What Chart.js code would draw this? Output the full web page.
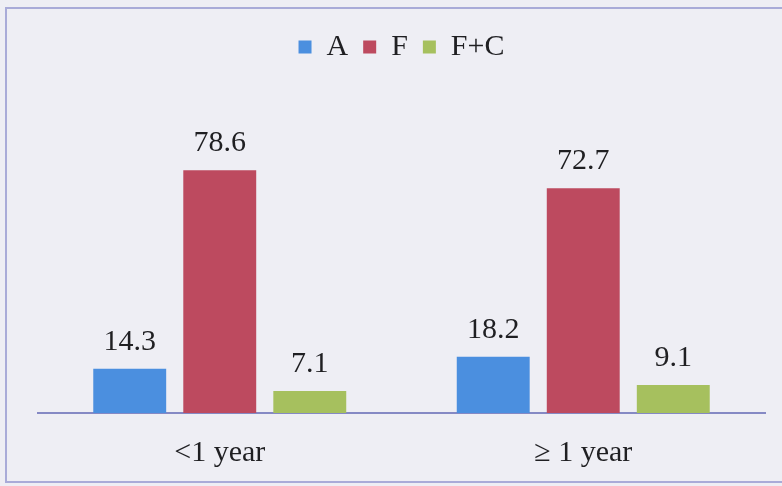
<!DOCTYPE html>
<html>
<head>
<meta charset="utf-8">
<script src="https://cdn.jsdelivr.net/npm/chart.js@4/dist/chart.umd.min.js"></script>
<style>
  html, body { margin: 0; padding: 0; background: #eeeef4; }
  #wrap { width: 782px; height: 486px; position: relative; }
</style>
</head>
<body>
<div id="wrap"><canvas id="c" width="782" height="486"></canvas></div>
<script>
// Duration groups and the share (%) in each group
const categories = ['<1 year', '\u2265 1 year'];
const seriesNames = ['A', 'F', 'F+C'];
const valuesA = [14.3, 18.2];
const valuesF = [78.6, 72.7];
const valuesFC = [7.1, 9.1];
const seriesColors = ['#4b8fdf', '#bd4a5f', '#a6c05e'];

const FONT = '"Liberation Serif", "Times New Roman", serif';
const TEXT = '#1f1f22';

// Page background plus the thin frame around the figure
const framePlugin = {
  id: 'frame',
  beforeDraw(chart) {
    const ctx = chart.ctx;
    ctx.save();
    ctx.fillStyle = '#eeeef4';
    ctx.fillRect(0, 0, chart.width, chart.height);
    ctx.strokeStyle = '#a9abd8';
    ctx.lineWidth = 2;
    ctx.strokeRect(6, 8, 800, 474);
    ctx.restore();
  }
};

// Extra room under the legend
const legendSpacing = {
  id: 'legendSpacing',
  beforeLayout(chart) {
    const lg = chart.legend;
    if (lg && !lg._spaced) {
      const fit = lg.fit;
      lg.fit = function () {
        fit.call(this);
        this.height = 87;
      };
      lg._spaced = true;
    }
  }
};

// Value printed above every bar
const valueLabels = {
  id: 'valueLabels',
  afterDatasetsDraw(chart) {
    const ctx = chart.ctx;
    ctx.save();
    ctx.font = '30px ' + FONT;
    ctx.fillStyle = TEXT;
    ctx.textAlign = 'center';
    ctx.textBaseline = 'alphabetic';
    chart.data.datasets.forEach((ds, i) => {
      chart.getDatasetMeta(i).data.forEach((bar, j) => {
        ctx.fillText(ds.data[j].toFixed(1), bar.x, bar.y - 19);
      });
    });
    ctx.restore();
  }
};

new Chart(document.getElementById('c'), {
  type: 'bar',
  data: {
    labels: categories,
    datasets: [valuesA, valuesF, valuesFC].map((vals, i) => ({
      label: seriesNames[i],
      data: vals,
      backgroundColor: seriesColors[i],
      borderWidth: 0,
      categoryPercentage: 0.743,
      barPercentage: 0.81
    }))
  },
  options: {
    responsive: false,
    animation: false,
    devicePixelRatio: 1,
    layout: { padding: { top: 17, left: 38, right: 17, bottom: 0 } },
    plugins: {
      legend: {
        position: 'top',
        labels: {
          boxWidth: 13,
          boxHeight: 13,
          padding: 15,
          color: TEXT,
          font: { family: FONT, size: 30 }
        }
      },
      tooltip: { enabled: false }
    },
    scales: {
      x: {
        grid: { display: false, drawTicks: false },
        border: { display: true, color: '#8589c4', width: 2 },
        ticks: { color: TEXT, padding: 22, font: { family: FONT, size: 30 } },
        afterFit(scale) { scale.height = 73; }
      },
      y: {
        display: false,
        min: 0,
        max: 100
      }
    }
  },
  plugins: [framePlugin, legendSpacing, valueLabels]
});
</script>
</body>
</html>
